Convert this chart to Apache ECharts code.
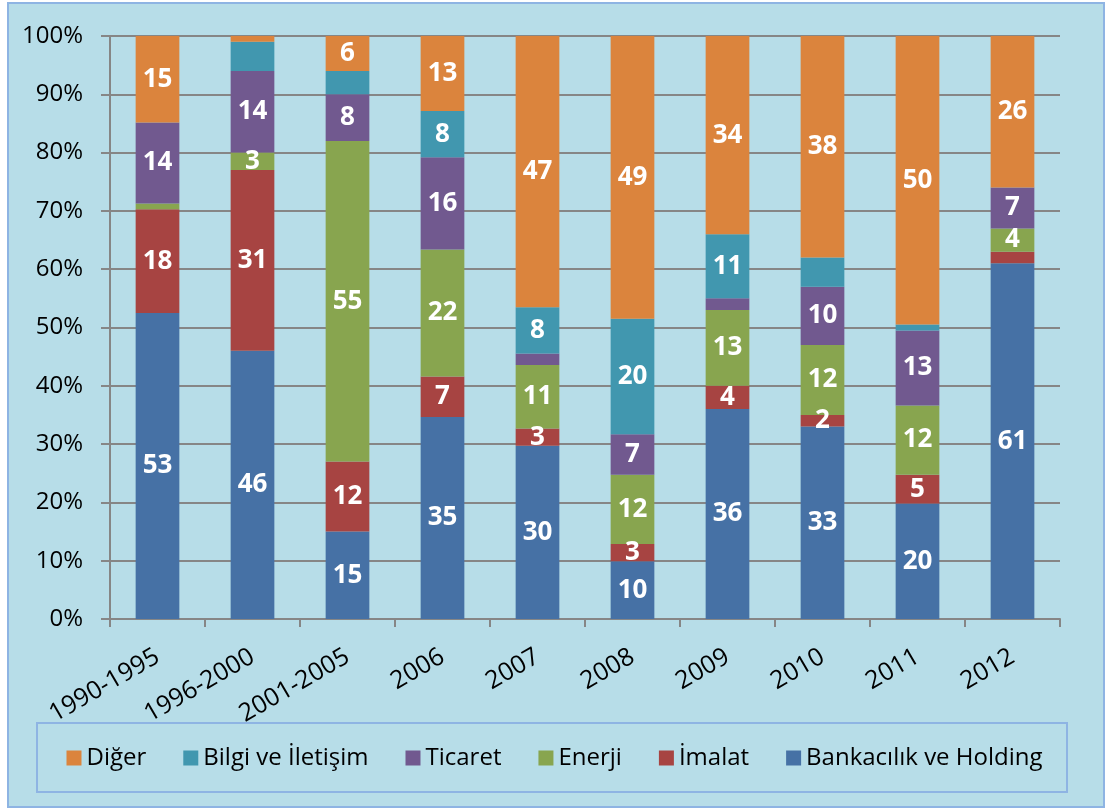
<!DOCTYPE html>
<html>
<head>
<meta charset="utf-8">
<script src="https://cdn.jsdelivr.net/npm/echarts@6/dist/echarts.min.js"></script>
<style>
    html, body { margin: 0; padding: 0; background: #fff; }
    #chart { width: 1109px; height: 810px; }
</style>
</head>
<body>
<div id="chart"></div>
<script>
// kategoriler ve seriler (etiket degerleri, Excel %100 yigilmis)
const years = ['1990-1995', '1996-2000', '2001-2005', '2006', '2007', '2008', '2009', '2010', '2011', '2012'];
const bankacilik = [53, 46, 15, 35, 30, 10, 36, 33, 20, 61];
const imalat     = [18, 31, 12, 7, 3, 3, 4, 2, 5, 2];
const enerji     = [1, 3, 55, 22, 11, 12, 13, 12, 12, 4];
const ticaret    = [14, 14, 8, 16, 2, 7, 2, 10, 13, 7];
const bilgi      = [0, 5, 4, 8, 8, 20, 11, 5, 1, 0];
const diger      = [15, 1, 6, 13, 47, 49, 34, 38, 50, 26];
const yTicks     = [0, 10, 20, 30, 40, 50, 60, 70, 80, 90, 100];

// etiketi gosterilmeyen dilimler (kategori indeksleri)
const hidden = {
    'İmalat': [9],
    'Enerji': [0],
    'Ticaret': [4, 6],
    'Bilgi ve İletişim': [1, 2, 7, 8],
    'Diğer': [1]
};

window.onload = function () {
    let chart = echarts.init(document.getElementById('chart'));

    let raw = [
        { name: 'Bankacılık ve Holding', color: '#4671a5', data: bankacilik },
        { name: 'İmalat', color: '#a74442', data: imalat },
        { name: 'Enerji', color: '#88a54f', data: enerji },
        { name: 'Ticaret', color: '#71598f', data: ticaret },
        { name: 'Bilgi ve İletişim', color: '#4197af', data: bilgi },
        { name: 'Diğer', color: '#db843d', data: diger }
    ];

    // %100'e normalize et
    let sums = years.map((y, i) => raw.reduce((s, r) => s + r.data[i], 0));

    let series = raw.map(function (r) {
        let hide = hidden[r.name] || [];
        return {
            name: r.name,
            type: 'bar',
            stack: 'total',
            barWidth: '46%',
            itemStyle: { color: r.color },
            label: {
                show: true,
                position: 'inside',
                color: '#fff',
                fontFamily: 'Open Sans',
                fontWeight: 'bold',
                fontSize: 26,
                formatter: function (p) {
                    if (r.data[p.dataIndex] === 0 || hide.indexOf(p.dataIndex) >= 0) return '';
                    return r.data[p.dataIndex];
                }
            },
            data: r.data.map((v, i) => v / sums[i] * 100)
        };
    });

    let option = {
        animation: false,
        backgroundColor: '#fff',
        graphic: [
            {
                type: 'rect', z: -10,
                shape: { x: 8, y: 3, width: 1096, height: 804 },
                style: { fill: '#b7dde8', stroke: '#8eb4e3', lineWidth: 2 }
            },
            {
                type: 'rect', z: -9,
                shape: { x: 37, y: 723, width: 1030, height: 69 },
                style: { fill: 'none', stroke: '#8eb4e3', lineWidth: 2 }
            }
        ],
        grid: { left: 110, right: 49, top: 36, bottom: 191 },
        legend: {
            data: raw.map(r => r.name).reverse(),
            top: 741,
            left: 'center',
            itemWidth: 15,
            itemHeight: 15,
            itemGap: 37,
            icon: 'rect',
            textStyle: { fontFamily: 'Open Sans', fontSize: 24, color: '#000' }
        },
        xAxis: {
            type: 'category',
            data: years,
            axisLine: { lineStyle: { color: '#868686', width: 2 } },
            axisTick: { show: true, length: 8, lineStyle: { color: '#868686', width: 2 } },
            axisLabel: {
                rotate: 30,
                margin: 36,
                color: '#000',
                fontFamily: 'Open Sans',
                fontSize: 25
            }
        },
        yAxis: {
            type: 'value',
            min: yTicks[0],
            max: yTicks[yTicks.length - 1],
            interval: 10,
            axisLine: { show: true, lineStyle: { color: '#868686', width: 2 } },
            axisTick: { show: true, length: 9, lineStyle: { color: '#868686', width: 2 } },
            splitLine: { show: true, lineStyle: { color: '#868686', width: 2 } },
            axisLabel: {
                formatter: '{value}%',
                margin: 27,
                color: '#000',
                fontFamily: 'Open Sans',
                fontSize: 24
            }
        },
        series: series
    };

    chart.setOption(option);
};
</script>
</body>
</html>
